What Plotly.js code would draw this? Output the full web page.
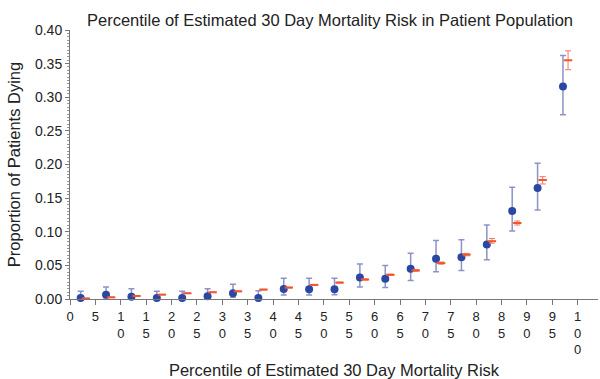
<!DOCTYPE html>
<html>
<head>
<meta charset="utf-8">
<script src="https://cdn.plot.ly/plotly-3.0.1.min.js"></script>
<style>html,body{margin:0;padding:0;background:#fff;}#chart{width:600px;height:379px;}</style>
</head>
<body>
<div id="chart"></div>
<script>
// Percentile bins (bin midpoints)
const binMid = [2.5, 7.5, 12.5, 17.5, 22.5, 27.5, 32.5, 37.5, 42.5, 47.5, 52.5, 57.5, 62.5, 67.5, 72.5, 77.5, 82.5, 87.5, 92.5, 97.5];

// Observed proportion dying with confidence limits
const observed = [0.0015, 0.0065, 0.0035, 0.0015, 0.0015, 0.004, 0.0085, 0.0015, 0.015, 0.0144, 0.0144, 0.032, 0.030, 0.045, 0.060, 0.062, 0.081, 0.131, 0.165, 0.316];
const obsUpper = [0.0114, 0.018, 0.0154, 0.0114, 0.0114, 0.0154, 0.022, 0.0124, 0.031, 0.031, 0.031, 0.052, 0.050, 0.068, 0.087, 0.088, 0.110, 0.166, 0.202, 0.362];
const obsLower = [0, 0.002, 0, 0, 0, 0, 0.0025, 0, 0.006, 0.006, 0.0065, 0.018, 0.017, 0.0276, 0.0406, 0.0425, 0.0585, 0.101, 0.1325, 0.274];

// Expected (predicted) mortality with confidence limits
const expected = [0.0008, 0.0025, 0.0045, 0.0065, 0.0085, 0.010, 0.0114, 0.014, 0.017, 0.021, 0.0244, 0.029, 0.036, 0.0425, 0.0534, 0.066, 0.086, 0.113, 0.177, 0.355];
const expLower = [0.0006, 0.0022, 0.0042, 0.0062, 0.0081, 0.0096, 0.0110, 0.0135, 0.0164, 0.0204, 0.0237, 0.0282, 0.0350, 0.0412, 0.0518, 0.0642, 0.083, 0.110, 0.171, 0.341];
const expUpper = [0.0010, 0.0028, 0.0048, 0.0068, 0.0089, 0.0104, 0.0118, 0.0145, 0.0176, 0.0216, 0.0251, 0.0298, 0.0370, 0.0438, 0.0550, 0.0678, 0.090, 0.116, 0.182, 0.369];

// Axis ticks
const xTickVals = [0, 5, 10, 15, 20, 25, 30, 35, 40, 45, 50, 55, 60, 65, 70, 75, 80, 85, 90, 95, 100];
const xTickText = ["0", "5", "1<br>0", "1<br>5", "2<br>0", "2<br>5", "3<br>0", "3<br>5", "4<br>0", "4<br>5", "5<br>0", "5<br>5", "6<br>0", "6<br>5", "7<br>0", "7<br>5", "8<br>0", "8<br>5", "9<br>0", "9<br>5", "1<br>0<br>0"];
const yTickVals = [0, 0.05, 0.10, 0.15, 0.20, 0.25, 0.30, 0.35, 0.40];
const yTickText = ["0.00", "0.05", "0.10", "0.15", "0.20", "0.25", "0.30", "0.35", "0.40"];

const blueOffset = -0.4, redOffset = 0.6;
const FONT = "Liberation Sans, Arial, sans-serif";

const traceObs = {
  type: 'scatter', mode: 'markers',
  x: binMid.map(v => v + blueOffset),
  y: observed,
  cliponaxis: false,
  marker: {color: '#2a47a3', size: 8},
  error_y: {
    type: 'data', symmetric: false,
    array: observed.map((v, i) => obsUpper[i] - v),
    arrayminus: observed.map((v, i) => v - obsLower[i]),
    color: '#8c93c6', thickness: 1.5, width: 3
  },
  showlegend: false, hoverinfo: 'x+y'
};

const traceExp = {
  type: 'scatter', mode: 'markers',
  x: binMid.map(v => v + redOffset),
  y: expected,
  cliponaxis: false,
  marker: {symbol: 'line-ew', size: 6, color: '#f2552c', line: {color: '#f2552c', width: 2}},
  error_y: {
    type: 'data', symmetric: false,
    array: expected.map((v, i) => expUpper[i] - v),
    arrayminus: expected.map((v, i) => v - expLower[i]),
    color: '#f07a60', thickness: 1, width: 3
  },
  showlegend: false, hoverinfo: 'x+y'
};

const layout = {
  width: 600, height: 379,
  paper_bgcolor: '#ffffff', plot_bgcolor: '#ffffff',
  margin: {l: 70, r: 2, t: 30, b: 80},
  font: {family: FONT, color: '#222222', size: 13},
  title: {
    text: 'Percentile of Estimated 30 Day Mortality Risk in Patient Population',
    font: {family: FONT, size: 16.5, color: '#222222'},
    x: 0.55, xanchor: 'center', y: 0.947, yanchor: 'middle'
  },
  xaxis: {
    range: [0, 104],
    tickmode: 'array', tickvals: xTickVals, ticktext: xTickText,
    ticks: 'outside', ticklen: 5, tickwidth: 1, tickcolor: '#777777',
    showline: true, linecolor: '#777777', linewidth: 1,
    showgrid: false, zeroline: false,
    tickfont: {family: FONT, size: 13, color: '#222222'},
    title: {text: 'Percentile of Estimated 30 Day Mortality Risk', font: {family: FONT, size: 16.5, color: '#222222'}, standoff: 8}
  },
  yaxis: {
    range: [0, 0.40],
    tickmode: 'array', tickvals: yTickVals, ticktext: yTickText,
    ticks: 'outside', ticklen: 4, tickwidth: 1, tickcolor: '#777777',
    minor: {ticks: 'outside', ticklen: 2, dtick: 0.005, tickcolor: '#999999', showgrid: false},
    showline: true, linecolor: '#777777', linewidth: 1,
    showgrid: false, zeroline: false,
    tickfont: {family: FONT, size: 14, color: '#222222'},
    title: {text: 'Proportion of Patients Dying', font: {family: FONT, size: 16.5, color: '#222222'}, standoff: 10}
  }
};

Plotly.newPlot('chart', [traceObs, traceExp], layout, {displayModeBar: false, staticPlot: true});
</script>
</body>
</html>
